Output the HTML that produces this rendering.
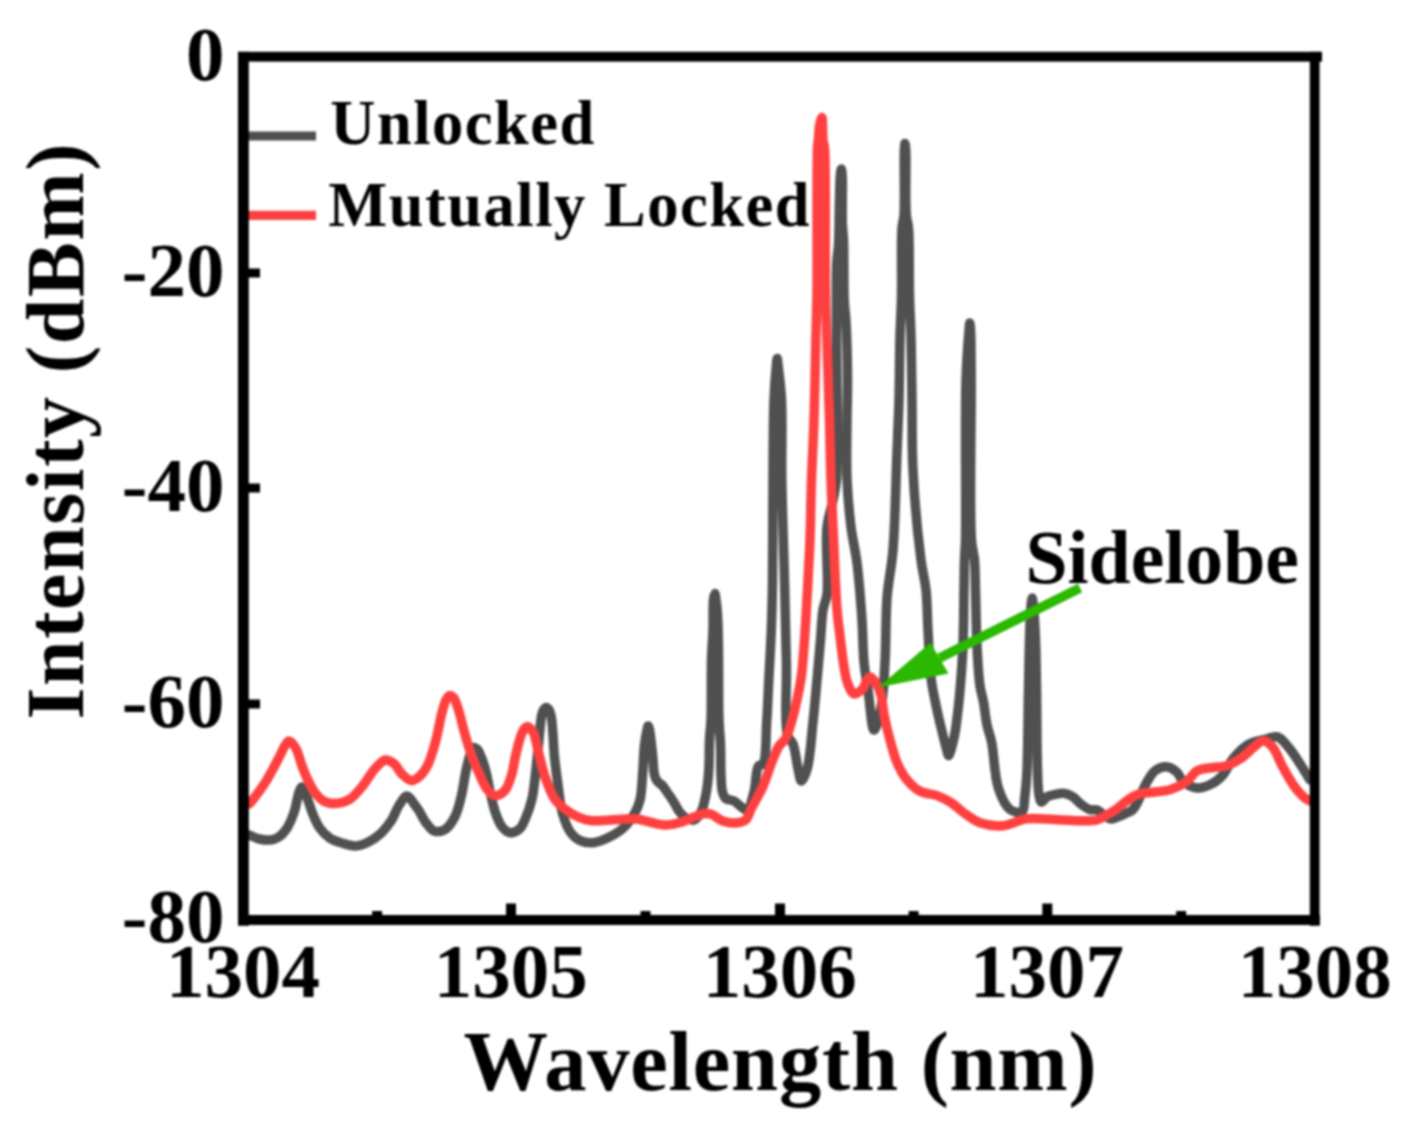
<!DOCTYPE html>
<html><head><meta charset="utf-8"><style>
html,body{margin:0;padding:0;background:#fff;}
svg{display:block;}
#w{width:1401px;height:1121px;overflow:hidden;filter:blur(0.8px);}
text{font-family:"Liberation Serif",serif;font-weight:bold;fill:#000;}
</style></head><body>
<div id="w"><svg width="1401" height="1121" viewBox="0 0 1401 1121">
<rect x="0" y="0" width="1401" height="1121" fill="#fff"/>
<g fill="none" stroke-linejoin="round" stroke-linecap="round">
<path d="M249.0,835.0 C252.4,836.3 255.8,838.2 259.3,839.0 C262.8,839.8 266.7,840.3 270.0,840.0 C272.9,839.7 275.5,839.0 278.0,837.5 C281.0,835.7 283.9,832.7 286.3,829.2 C289.4,824.8 291.9,818.5 294.0,812.5 C296.2,806.1 297.4,796.5 299.1,792.0 C300.0,789.7 300.7,787.0 301.7,787.0 C303.1,787.0 305.1,793.2 306.8,797.1 C309.0,802.2 310.9,809.6 313.2,815.0 C315.2,819.7 316.9,824.0 319.7,827.9 C322.5,831.8 326.1,835.6 330.0,838.2 C333.8,840.7 338.5,842.0 342.8,843.3 C347.0,844.6 351.3,846.1 355.6,845.9 C359.9,845.7 364.4,844.0 368.5,842.0 C373.0,839.8 377.5,836.6 381.3,833.0 C385.2,829.3 388.6,824.8 391.6,820.2 C394.6,815.5 396.4,809.1 399.3,804.8 C401.7,801.3 404.4,796.0 407.0,796.0 C409.6,796.0 412.6,802.2 414.7,804.8 C416.2,806.7 417.1,807.8 418.5,810.0 C420.7,813.3 423.3,819.2 426.1,822.9 C428.6,826.1 430.9,829.9 434.1,831.0 C437.3,832.1 442.0,831.2 445.3,829.3 C449.2,827.0 452.4,821.6 455.0,816.5 C458.0,810.6 459.6,803.0 461.4,795.6 C463.4,787.5 464.4,777.6 466.2,769.9 C467.7,763.4 469.2,756.3 471.0,752.3 C472.0,750.1 473.0,747.7 474.2,747.4 C475.2,747.2 476.5,748.4 477.5,749.5 C478.8,750.9 479.5,753.0 480.6,755.5 C482.2,759.2 484.0,764.5 485.5,769.9 C487.3,776.5 488.6,785.2 490.3,792.4 C491.8,799.1 493.1,805.8 495.1,811.7 C496.9,816.9 498.7,822.5 501.5,826.1 C503.7,829.0 506.5,832.0 509.5,832.5 C512.4,833.0 516.6,831.4 519.2,829.3 C522.1,826.9 523.7,822.4 525.6,818.1 C528.0,812.6 530.4,805.6 532.0,798.8 C533.7,791.7 534.2,784.5 535.2,776.3 C536.4,766.6 537.4,754.6 538.5,744.2 C539.6,734.2 540.4,720.7 541.7,715.0 C542.3,712.6 542.6,711.3 543.5,710.0 C544.2,708.9 545.3,707.5 546.2,707.5 C547.1,707.5 548.2,708.8 549.0,710.0 C550.1,711.6 550.6,713.6 551.3,716.9 C552.9,724.7 553.3,745.2 554.5,757.1 C555.5,766.6 556.4,773.9 557.7,782.8 C559.1,792.5 560.0,804.4 562.5,813.3 C564.6,820.6 567.1,827.7 570.6,832.5 C573.3,836.2 576.4,838.9 580.2,840.6 C584.2,842.4 589.6,843.0 594.3,842.5 C599.1,842.0 603.9,839.7 608.5,837.5 C613.4,835.1 618.6,832.3 622.8,828.5 C627.2,824.6 631.3,819.2 634.2,814.2 C636.9,809.6 638.6,805.7 640.0,800.0 C641.9,792.2 642.0,780.7 642.8,771.4 C643.5,762.4 643.6,752.5 644.5,745.0 C645.2,739.3 646.2,733.4 647.0,730.0 C647.4,728.2 647.8,726.0 648.2,726.0 C648.6,726.0 649.1,728.2 649.5,730.0 C650.3,733.4 650.9,740.0 651.5,745.0 C652.1,750.0 652.5,755.0 653.0,760.0 C653.5,765.0 653.5,771.2 654.5,775.0 C655.2,777.5 655.8,779.2 657.1,781.0 C658.5,782.9 661.0,784.0 662.8,786.0 C664.8,788.3 666.6,791.4 668.5,794.2 C670.4,797.0 672.3,799.8 674.2,802.8 C676.2,805.9 677.7,809.8 680.0,812.5 C682.1,814.9 684.5,817.3 687.0,818.5 C689.2,819.6 691.8,820.7 694.0,820.0 C696.7,819.1 699.4,814.9 701.3,811.4 C703.5,807.2 704.5,801.2 705.6,796.0 C706.7,790.8 707.4,785.3 708.0,780.0 C708.5,774.9 708.8,770.6 709.0,765.0 C709.3,757.7 709.1,747.9 709.5,740.0 C709.8,733.0 710.6,728.5 711.0,720.0 C711.6,705.4 711.0,676.6 711.5,660.0 C711.8,648.3 712.7,640.0 713.0,630.0 C713.3,620.0 712.8,606.3 713.5,600.0 C713.8,597.0 714.4,593.5 714.8,593.5 C715.2,593.5 715.6,597.4 716.0,600.0 C716.6,604.0 717.1,608.9 717.5,615.0 C718.1,624.2 718.3,636.3 718.5,650.0 C718.8,669.3 718.4,702.5 719.0,720.0 C719.4,730.4 720.2,736.3 720.5,745.0 C720.9,754.5 720.6,766.4 721.0,775.0 C721.3,781.5 721.3,787.8 722.5,792.0 C723.3,794.8 723.9,797.0 725.7,798.5 C727.6,800.1 731.3,799.6 734.0,801.0 C737.0,802.6 740.3,806.5 742.8,808.0 C744.4,809.0 745.7,810.5 747.0,810.0 C749.7,808.9 752.2,798.7 754.0,792.0 C756.2,784.2 755.6,769.7 758.5,766.0 C759.7,764.4 761.8,765.7 763.0,764.0 C766.6,759.0 765.7,736.3 766.7,722.0 C767.7,707.0 768.2,691.3 769.0,676.0 C769.8,660.7 770.7,645.4 771.3,630.0 C771.9,614.4 772.2,601.7 772.5,583.0 C772.9,555.3 772.7,512.2 773.0,480.0 C773.2,451.7 773.2,421.0 774.0,400.0 C774.5,386.3 775.6,373.2 776.3,366.0 C776.6,362.6 776.9,358.5 777.2,358.5 C777.5,358.5 777.8,362.6 778.2,366.0 C779.0,373.2 780.8,386.3 781.5,400.0 C782.6,421.0 781.4,451.8 781.8,480.0 C782.3,511.5 783.7,548.1 784.5,580.0 C785.2,609.2 785.9,637.2 786.4,664.0 C786.9,688.7 784.0,722.8 787.5,735.0 C788.9,739.7 791.5,740.1 793.0,744.0 C795.4,750.0 796.4,761.9 798.0,768.7 C799.2,773.5 799.9,780.9 801.4,781.0 C802.9,781.1 805.6,774.3 807.2,768.7 C810.2,758.3 811.3,737.2 813.0,722.0 C814.6,707.6 815.7,693.8 817.0,680.0 C818.2,666.5 819.4,652.4 820.5,640.0 C821.4,629.3 821.6,618.4 823.0,610.0 C824.0,603.8 826.1,601.2 827.0,594.0 C828.8,579.4 825.1,544.3 827.0,527.0 C828.2,515.9 831.4,508.5 833.0,500.0 C834.4,492.6 835.7,489.2 836.5,479.0 C838.7,451.9 836.4,370.0 836.5,330.0 C836.6,302.9 836.0,277.1 836.8,262.0 C837.2,254.4 838.1,252.0 838.5,245.0 C839.2,233.6 839.1,212.7 839.5,200.0 C839.8,190.8 839.8,181.6 840.3,176.0 C840.6,173.0 841.0,169.0 841.3,169.0 C841.6,169.0 842.0,172.6 842.2,176.0 C842.8,184.8 841.8,212.3 842.3,224.0 C842.6,230.8 843.2,233.0 843.5,240.0 C844.1,253.6 843.5,284.9 844.2,300.0 C844.6,309.1 845.5,312.9 846.0,322.0 C846.8,336.6 847.4,361.6 847.5,379.0 C847.6,393.8 847.1,405.1 847.0,420.0 C846.9,437.9 846.2,460.4 847.0,479.0 C847.7,495.8 849.2,512.2 851.0,527.0 C852.6,539.9 855.3,549.6 857.0,563.0 C859.1,579.8 860.8,602.4 862.0,620.0 C863.0,635.1 862.8,649.0 864.0,662.0 C865.1,673.4 866.9,683.0 868.5,694.0 C870.2,705.7 871.6,729.8 874.0,730.0 C875.9,730.2 879.2,716.8 881.0,708.0 C883.5,695.6 884.0,678.6 885.0,662.0 C886.2,642.4 885.5,617.8 887.0,598.0 C888.3,580.8 891.4,568.9 893.0,550.0 C895.2,523.1 895.9,479.5 897.0,452.0 C897.8,431.9 898.5,418.2 899.0,400.0 C899.5,380.0 899.5,355.9 900.0,337.0 C900.4,321.6 901.2,310.6 901.5,295.0 C901.9,275.3 900.9,241.6 902.0,228.0 C902.5,222.0 903.5,221.0 904.0,215.0 C905.0,201.9 903.8,163.3 904.3,152.0 C904.5,147.9 904.8,143.5 905.0,143.5 C905.3,143.5 905.6,147.8 905.8,152.0 C906.4,163.3 905.1,201.9 906.3,215.0 C906.8,221.0 907.9,222.0 908.5,228.0 C909.7,241.6 909.0,275.3 909.5,295.0 C909.9,310.6 910.6,321.6 911.0,337.0 C911.5,355.9 911.7,378.4 912.0,400.0 C912.3,422.7 911.7,445.2 913.0,470.0 C914.4,498.1 918.2,538.1 921.0,560.0 C922.6,572.7 924.8,579.2 926.0,590.0 C927.3,602.3 927.2,616.1 928.0,630.0 C928.9,645.3 929.2,663.7 931.0,678.0 C932.5,689.8 935.3,701.7 937.0,710.0 C938.1,715.3 938.8,717.9 940.0,723.0 C941.8,730.6 945.5,745.6 947.0,751.0 C947.6,753.2 947.9,755.6 948.5,755.6 C949.8,755.6 952.7,743.8 954.2,737.0 C956.0,728.9 957.0,718.3 958.0,710.0 C958.9,702.8 959.3,698.0 960.0,690.0 C961.0,678.2 962.3,661.6 963.0,646.0 C963.8,628.5 963.7,605.8 964.0,590.0 C964.2,578.5 964.2,569.0 964.5,560.0 C964.7,552.7 965.2,549.9 965.5,540.0 C966.2,512.1 964.8,418.0 966.0,380.0 C966.7,359.0 968.2,340.4 969.0,331.0 C969.3,327.2 969.5,323.0 969.8,323.0 C970.1,323.0 970.4,327.2 970.6,331.0 C971.1,340.4 971.1,359.0 971.2,380.0 C971.5,418.0 969.4,512.2 971.5,540.0 C972.2,549.9 973.8,552.6 974.5,560.0 C975.3,569.0 975.2,578.5 975.5,590.0 C976.0,605.8 976.1,628.9 977.0,646.0 C977.7,660.5 978.5,675.7 980.0,686.0 C981.0,692.6 982.4,696.2 983.5,702.0 C984.8,709.0 985.5,718.0 987.0,725.0 C988.3,731.1 990.1,734.9 991.6,742.0 C994.0,753.6 994.4,776.4 998.5,788.6 C1001.4,797.3 1005.2,806.0 1010.0,809.5 C1013.4,812.0 1019.2,813.5 1021.7,811.8 C1024.7,809.8 1024.1,801.2 1025.0,795.0 C1026.0,787.5 1026.5,780.7 1027.0,770.0 C1027.9,750.9 1028.0,713.5 1028.5,690.0 C1028.9,671.4 1029.0,655.1 1029.5,640.0 C1029.9,627.6 1030.3,613.4 1031.0,606.0 C1031.3,602.4 1031.8,598.0 1032.2,598.0 C1032.6,598.0 1033.0,602.4 1033.4,606.0 C1034.2,613.4 1035.0,627.6 1035.5,640.0 C1036.1,655.1 1036.2,671.4 1036.5,690.0 C1036.9,713.5 1036.8,750.9 1037.5,770.0 C1037.9,780.7 1037.8,789.3 1039.0,795.0 C1039.6,798.1 1040.2,801.7 1041.5,802.0 C1042.8,802.3 1044.8,798.1 1047.0,796.8 C1049.4,795.4 1052.8,794.9 1055.7,794.3 C1058.6,793.7 1061.5,793.0 1064.3,793.4 C1067.2,793.8 1070.1,795.1 1072.8,796.8 C1075.8,798.7 1078.4,802.3 1081.4,804.5 C1084.2,806.6 1087.2,808.8 1090.0,809.7 C1092.4,810.4 1094.8,809.2 1097.0,810.0 C1099.5,810.8 1101.6,813.5 1104.0,815.0 C1106.4,816.5 1108.8,818.8 1111.4,819.0 C1114.1,819.2 1117.3,817.1 1120.0,816.0 C1122.4,815.0 1124.5,814.1 1126.7,813.0 C1128.8,812.0 1131.1,811.3 1132.8,809.7 C1134.8,807.8 1136.2,804.8 1137.7,802.0 C1139.3,798.9 1140.5,795.3 1142.0,792.0 C1143.6,788.6 1145.1,785.1 1147.1,781.7 C1149.3,778.0 1151.7,773.2 1155.0,770.7 C1158.1,768.4 1162.4,766.5 1166.0,766.7 C1169.7,766.9 1174.1,769.6 1177.0,772.2 C1179.8,774.7 1180.2,779.2 1183.2,781.7 C1186.7,784.7 1192.7,787.6 1197.4,788.0 C1201.7,788.4 1206.0,786.7 1210.0,784.8 C1214.4,782.7 1218.8,779.4 1222.5,775.4 C1226.8,770.8 1229.1,763.3 1233.5,758.1 C1238.0,752.8 1243.6,747.1 1249.2,744.0 C1254.1,741.2 1259.9,740.5 1264.9,739.3 C1269.3,738.2 1273.7,735.8 1277.5,736.9 C1281.6,738.1 1285.0,743.1 1288.4,747.1 C1292.3,751.6 1295.8,757.4 1299.4,762.8 C1303.1,768.4 1306.5,774.3 1310.0,780.0" stroke="#505050" stroke-width="9.5"/>
<path d="M249.0,804.0 C250.3,802.6 251.2,801.7 252.8,799.7 C255.9,795.8 261.6,788.2 265.7,781.7 C270.2,774.6 275.0,765.1 278.5,758.5 C281.1,753.6 283.0,748.8 285.0,745.7 C286.3,743.7 287.5,741.2 288.8,741.0 C289.8,740.8 290.9,742.0 292.0,743.0 C293.5,744.5 295.1,746.8 296.5,749.6 C298.5,753.6 299.9,760.1 301.7,765.0 C303.4,769.5 304.8,773.5 306.8,777.8 C309.0,782.5 311.5,788.0 314.5,792.0 C317.2,795.6 320.0,799.1 323.5,801.0 C326.9,802.8 331.0,803.6 335.0,803.5 C339.5,803.4 344.9,802.2 349.2,799.7 C354.0,796.9 357.9,791.6 362.0,786.8 C366.5,781.5 370.6,773.5 375.0,768.8 C378.4,765.1 381.7,760.6 385.2,760.0 C388.1,759.5 391.6,761.7 394.2,763.7 C397.2,766.1 398.9,771.2 401.9,774.0 C404.7,776.7 408.4,780.3 411.5,780.5 C414.3,780.7 417.1,778.4 419.6,776.3 C422.6,773.7 425.3,769.8 427.7,765.1 C430.9,758.8 433.4,749.5 435.7,741.0 C438.2,731.9 440.0,719.8 442.1,712.1 C443.6,706.8 444.7,701.9 446.5,699.0 C447.6,697.3 448.8,695.7 450.0,695.5 C451.1,695.4 452.4,696.3 453.5,697.5 C455.4,699.6 456.7,704.3 458.2,708.9 C460.4,715.4 462.4,725.3 464.6,733.0 C466.7,740.2 468.6,747.1 471.0,753.9 C473.4,760.5 476.2,767.0 479.0,773.1 C481.6,778.8 483.9,785.3 487.1,789.2 C489.5,792.2 492.2,795.3 495.1,795.6 C498.1,795.9 502.1,793.5 504.7,790.8 C507.8,787.6 509.4,781.8 511.2,776.3 C513.3,769.7 514.3,760.9 516.0,753.9 C517.5,747.6 519.1,740.8 520.8,736.2 C522.0,733.0 523.1,730.1 524.5,728.5 C525.3,727.5 526.3,726.7 527.2,726.6 C528.1,726.5 529.1,727.2 530.0,728.0 C531.3,729.1 532.5,730.6 533.6,733.0 C535.6,737.2 536.7,745.5 538.5,752.3 C540.5,759.9 542.2,768.5 544.9,776.3 C547.6,784.0 550.7,793.1 554.5,798.8 C557.4,803.0 560.5,805.5 564.1,808.4 C567.9,811.5 572.6,814.5 577.0,816.5 C581.2,818.4 585.1,819.8 590.0,820.5 C595.9,821.3 602.8,820.2 610.0,820.0 C618.3,819.7 629.4,818.2 637.0,819.0 C642.6,819.6 646.6,821.5 651.4,822.5 C656.2,823.5 660.9,825.0 665.7,825.0 C670.5,825.0 675.3,823.8 680.0,822.5 C684.8,821.2 689.9,818.6 694.2,817.0 C697.8,815.7 701.1,813.9 704.2,813.5 C706.7,813.2 708.7,813.4 711.3,814.2 C714.8,815.3 718.6,819.6 722.8,821.0 C727.1,822.5 732.9,823.2 737.0,822.8 C740.3,822.5 743.3,822.0 745.6,820.0 C748.3,817.6 749.4,812.2 751.3,808.5 C753.2,804.9 755.1,801.5 757.0,798.0 C758.9,794.4 760.7,791.6 762.7,787.0 C765.8,780.1 769.6,767.5 772.7,760.0 C774.9,754.5 776.6,749.6 779.0,746.0 C780.8,743.2 783.2,742.5 785.0,739.5 C787.7,735.1 789.8,727.8 791.8,721.0 C794.2,713.1 796.3,703.0 798.0,695.0 C799.4,688.2 800.4,683.4 801.4,676.0 C802.7,665.9 803.5,653.5 804.5,640.0 C805.8,622.5 807.0,598.0 808.0,580.0 C808.8,565.3 809.4,554.7 810.0,540.0 C810.7,522.0 810.8,500.0 811.5,480.0 C812.2,460.0 813.3,441.8 814.0,420.0 C814.8,393.9 815.5,357.9 816.0,334.0 C816.4,316.9 816.8,308.8 817.0,290.0 C817.4,256.1 816.5,167.8 817.5,148.0 C817.8,142.7 818.2,141.6 818.5,138.0 C818.9,133.7 819.0,127.7 819.8,124.0 C820.4,121.4 821.6,117.4 822.0,117.5 C822.4,117.6 822.4,121.4 822.5,124.0 C822.7,128.2 822.5,135.6 823.0,140.0 C823.3,143.1 824.1,143.7 824.5,148.0 C826.2,166.1 824.9,256.1 825.5,290.0 C825.8,308.8 826.2,316.9 826.7,334.0 C827.4,357.9 828.7,393.9 829.5,420.0 C830.1,441.8 830.3,460.0 831.0,480.0 C831.7,500.0 832.6,519.2 833.6,540.0 C834.6,562.4 835.6,592.3 837.0,610.0 C837.9,620.8 839.0,627.5 840.0,636.0 C841.0,644.2 841.9,652.4 843.0,660.0 C844.0,666.8 845.0,674.0 846.4,679.3 C847.4,683.1 848.5,686.4 850.0,689.0 C851.2,691.1 852.5,693.7 854.3,694.0 C856.5,694.3 860.0,691.4 862.4,689.0 C865.3,686.1 867.0,677.3 869.6,677.0 C871.6,676.7 874.2,680.6 876.0,683.2 C878.1,686.2 879.6,690.0 880.9,694.5 C882.6,700.4 882.8,708.4 884.2,715.7 C885.7,723.6 887.8,732.1 890.0,740.0 C892.1,747.8 894.1,755.9 897.1,762.8 C899.9,769.1 903.1,775.1 907.1,780.0 C910.8,784.5 915.1,788.7 920.0,791.3 C925.0,793.9 931.7,793.6 937.0,795.6 C942.1,797.5 946.7,799.8 951.3,802.8 C956.2,806.0 960.7,810.8 965.6,814.2 C970.3,817.4 974.3,820.8 979.9,822.7 C986.5,825.0 995.5,826.3 1003.2,825.7 C1011.0,825.1 1018.8,819.8 1026.4,818.8 C1033.4,817.8 1040.4,818.9 1047.0,819.1 C1053.0,819.3 1058.5,819.7 1064.3,820.0 C1070.0,820.3 1075.8,820.8 1081.4,820.8 C1086.7,820.8 1092.3,821.2 1096.8,820.0 C1100.7,819.0 1103.8,816.6 1107.0,814.8 C1110.0,813.1 1112.9,811.6 1115.7,809.7 C1118.6,807.7 1121.3,805.0 1124.2,802.8 C1127.0,800.7 1129.8,798.4 1132.8,796.8 C1135.6,795.3 1138.4,794.1 1141.3,793.4 C1144.1,792.7 1146.5,792.9 1150.0,792.5 C1155.4,791.8 1164.4,791.5 1170.7,789.5 C1176.5,787.7 1181.9,785.0 1186.4,781.7 C1190.7,778.6 1193.0,773.1 1197.4,770.7 C1201.9,768.3 1208.1,768.3 1213.1,767.5 C1217.5,766.8 1221.3,767.3 1225.6,766.0 C1230.7,764.5 1236.5,761.3 1241.3,758.1 C1245.9,755.0 1249.9,750.2 1253.9,747.1 C1257.2,744.6 1260.2,740.8 1263.3,740.8 C1266.4,740.8 1269.9,743.9 1272.7,747.1 C1276.5,751.4 1278.8,759.8 1282.2,766.0 C1285.6,772.3 1289.3,779.3 1293.2,784.8 C1296.6,789.6 1300.8,794.6 1304.1,797.4 C1306.2,799.2 1308.0,799.8 1310.0,801.0" stroke="#ff4040" stroke-width="9.5"/>
</g>
<!-- legend lines -->
<line x1="244" y1="136" x2="316" y2="136" stroke="#505050" stroke-width="9.2"/>
<line x1="244" y1="215.4" x2="316" y2="215.4" stroke="#ff4040" stroke-width="9.2"/>
<!-- arrow -->
<line x1="1080" y1="588" x2="939.5" y2="658" stroke="#2ab800" stroke-width="9.5"/>
<polygon points="878,687.6 930.5,642.8 948.5,673.4" fill="#2ab800"/>
<!-- frame -->
<g fill="#000">
<rect x="238" y="51.8" width="1084" height="9.8"/>
<rect x="238" y="51.8" width="10.8" height="874"/>
<rect x="1309.8" y="51.8" width="9.8" height="874"/>
<rect x="238" y="915" width="1082" height="10"/>
<rect x="506" y="903.5" width="10" height="12"/>
<rect x="775" y="903.5" width="10" height="12"/>
<rect x="1042.3" y="903.5" width="10" height="12"/>
<rect x="372.15" y="911" width="10" height="5"/>
<rect x="640.5" y="911" width="10" height="5"/>
<rect x="908.65" y="911" width="10" height="5"/>
<rect x="1176.15" y="911" width="10" height="5"/>
<rect x="248" y="268.5" width="12" height="9"/>
<rect x="248" y="483.5" width="12" height="9"/>
<rect x="248" y="699.5" width="12" height="9"/>
</g>
<text x="224.5" y="79.8" font-size="77" text-anchor="end">0</text>
<text x="224.5" y="295.5" font-size="77" text-anchor="end">-20</text>
<text x="224.5" y="511.3" font-size="77" text-anchor="end">-40</text>
<text x="224.5" y="727.3" font-size="77" text-anchor="end">-60</text>
<text x="224.5" y="941.8" font-size="77" text-anchor="end">-80</text>
<text x="243" y="996.5" font-size="77" text-anchor="middle">1304</text>
<text x="510.7" y="996.5" font-size="77" text-anchor="middle">1305</text>
<text x="779.7" y="996.5" font-size="77" text-anchor="middle">1306</text>
<text x="1047" y="996.5" font-size="77" text-anchor="middle">1307</text>
<text x="1314.7" y="996.5" font-size="77" text-anchor="middle">1308</text>
<text x="330.3" y="144" font-size="62.5" letter-spacing="1.5">Unlocked</text>
<text x="328.3" y="226" font-size="62.5" letter-spacing="1.5">Mutually Locked</text>
<text x="1025.5" y="582.5" font-size="75.7">Sidelobe</text>
<text x="463.5" y="1089.5" font-size="84.5" letter-spacing="0.8">Wavelength (nm)</text>
<text transform="translate(83.4,719.5) rotate(-90)" x="0" y="0" font-size="82" letter-spacing="1.6">Intensity (dBm)</text>
</svg></div>
</body></html>
